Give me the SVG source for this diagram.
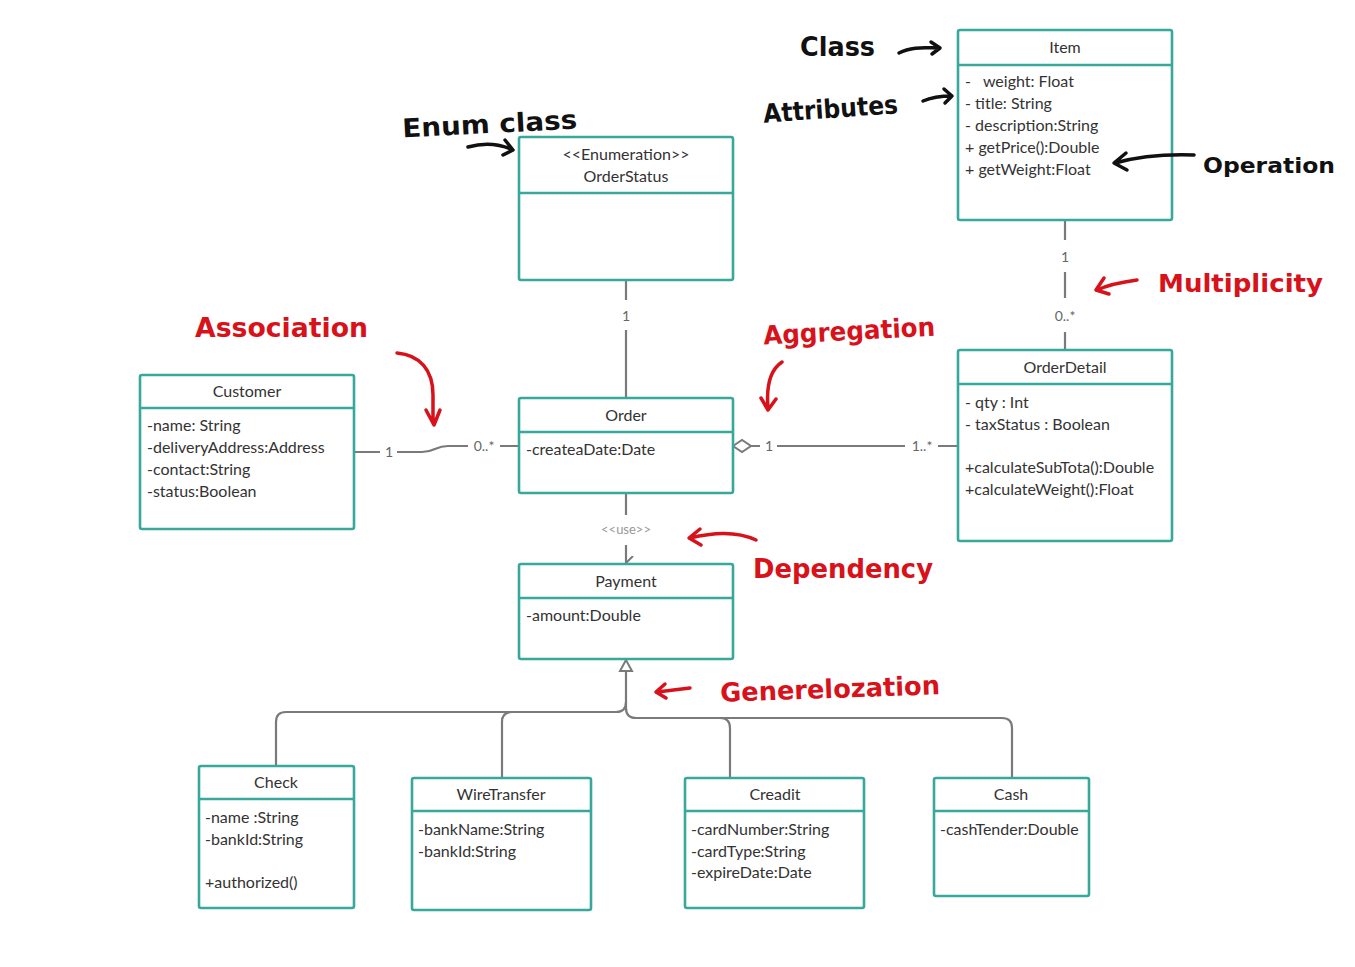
<svg xmlns="http://www.w3.org/2000/svg" width="1355" height="967" viewBox="0 0 1355 967">
<defs>
<style>
.box{fill:#fff;stroke:#38a89d;stroke-width:2.6}
.sep{stroke:#38a89d;stroke-width:2.6}
.t{font-family:Lato,"Open Sans","Liberation Sans",sans-serif;font-size:16px;fill:#333}
.c{text-anchor:middle}
.ln{fill:none;stroke:#7a7a7a;stroke-width:2.2}
.lbl{font-family:Lato,"Liberation Sans",sans-serif;font-size:14px;fill:#666;text-anchor:middle}
.use{font-family:Lato,"Liberation Sans",sans-serif;font-size:13px;fill:#999;text-anchor:middle}
.hb{font-family:"DejaVu Sans","Liberation Sans",sans-serif;font-weight:bold;font-size:26px;fill:#111}
.hr{font-family:"DejaVu Sans","Liberation Sans",sans-serif;font-weight:bold;font-size:26px;fill:#d8121b}
.ab{fill:none;stroke:#111;stroke-width:3.5;stroke-linecap:round;stroke-linejoin:round}
.ar{fill:none;stroke:#d8121b;stroke-width:3.5;stroke-linecap:round;stroke-linejoin:round}
</style>
<marker id="open" viewBox="0 0 14 14" refX="7" refY="13" markerWidth="14" markerHeight="14" markerUnits="userSpaceOnUse" orient="auto-start-reverse">
<path d="M0,6 L7,13 L14,6" fill="none" stroke="#7a7a7a" stroke-width="2"/>
</marker>
</defs>

<g id="connectors">
<!-- OrderStatus - Order -->
<path class="ln" d="M626,280 V300 M626,330 V398"/>
<text class="lbl" x="626" y="321">1</text>
<!-- Item - OrderDetail -->
<path class="ln" d="M1065,220 V240 M1065,272 V298 M1065,332 V350"/>
<text class="lbl" x="1065" y="262">1</text>
<text class="lbl" x="1065" y="321">0..*</text>
<!-- Customer - Order association -->
<path class="ln" d="M354,452 H380 M397,452 H422 C435,452 435,446 448,446 H468 M500,446 H519"/>
<text class="lbl" x="389" y="457">1</text>
<text class="lbl" x="484" y="451">0..*</text>
<!-- Order - OrderDetail aggregation -->
<path d="M733,446 L742,440 L751,446 L742,452 Z" fill="#fff" stroke="#7a7a7a" stroke-width="2"/>
<path class="ln" d="M751,446 H760 M777,446 H905 M938,446 H958"/>
<text class="lbl" x="769" y="451">1</text>
<text class="lbl" x="922" y="451">1..*</text>
<!-- Order - Payment dependency -->
<path class="ln" d="M626,493 V515"/>
<text class="use" x="626" y="534">&lt;&lt;use&gt;&gt;</text>
<path class="ln" d="M626,545 V563" marker-end="url(#open)"/>
<!-- Generalization -->
<path d="M626,660 L620,671 L632,671 Z" fill="#fff" stroke="#7a7a7a" stroke-width="2"/>
<path class="ln" d="M626,671 V708 Q626,718 636,718 H1002 Q1012,718 1012,728 V778"/>
<path class="ln" d="M626,702 Q626,712 616,712 H286 Q276,712 276,722 V766"/>
<path class="ln" d="M512,712 Q502,712 502,722 V778"/>
<path class="ln" d="M720,718 Q730,718 730,728 V778"/>
</g>

<g id="Item">
<rect class="box" x="958" y="30" width="214" height="190" rx="2"/>
<line class="sep" x1="958" y1="65" x2="1172" y2="65"/>
<text class="t c" x="1065" y="53">Item</text>
<text class="t" x="965" y="87">-&#160;&#160; weight: Float</text>
<text class="t" x="965" y="109">- title: String</text>
<text class="t" x="965" y="131">- description:String</text>
<text class="t" x="965" y="153">+ getPrice():Double</text>
<text class="t" x="965" y="175">+ getWeight:Float</text>
</g>

<g id="OrderStatus">
<rect class="box" x="519" y="137" width="214" height="143" rx="2"/>
<line class="sep" x1="519" y1="193" x2="733" y2="193"/>
<text class="t c" x="626" y="160">&lt;&lt;Enumeration&gt;&gt;</text>
<text class="t c" x="626" y="182">OrderStatus</text>
</g>

<g id="Customer">
<rect class="box" x="140" y="375" width="214" height="154" rx="2"/>
<line class="sep" x1="140" y1="408" x2="354" y2="408"/>
<text class="t c" x="247" y="397">Customer</text>
<text class="t" x="147" y="431">-name: String</text>
<text class="t" x="147" y="453">-deliveryAddress:Address</text>
<text class="t" x="147" y="475">-contact:String</text>
<text class="t" x="147" y="497">-status:Boolean</text>
</g>

<g id="Order">
<rect class="box" x="519" y="398" width="214" height="95" rx="2"/>
<line class="sep" x1="519" y1="432" x2="733" y2="432"/>
<text class="t c" x="626" y="421">Order</text>
<text class="t" x="526" y="455">-createaDate:Date</text>
</g>

<g id="OrderDetail">
<rect class="box" x="958" y="350" width="214" height="191" rx="2"/>
<line class="sep" x1="958" y1="384" x2="1172" y2="384"/>
<text class="t c" x="1065" y="373">OrderDetail</text>
<text class="t" x="965" y="408">- qty : Int</text>
<text class="t" x="965" y="430">- taxStatus : Boolean</text>
<text class="t" x="965" y="473">+calculateSubTota():Double</text>
<text class="t" x="965" y="495">+calculateWeight():Float</text>
</g>

<g id="Payment">
<rect class="box" x="519" y="564" width="214" height="95" rx="2"/>
<line class="sep" x1="519" y1="598" x2="733" y2="598"/>
<text class="t c" x="626" y="587">Payment</text>
<text class="t" x="526" y="621">-amount:Double</text>
</g>

<g id="Check">
<rect class="box" x="199" y="766" width="155" height="142" rx="2"/>
<line class="sep" x1="199" y1="799" x2="354" y2="799"/>
<text class="t c" x="276" y="788">Check</text>
<text class="t" x="205" y="823">-name :String</text>
<text class="t" x="205" y="845">-bankId:String</text>
<text class="t" x="205" y="888">+authorized()</text>
</g>

<g id="WireTransfer">
<rect class="box" x="412" y="778" width="179" height="132" rx="2"/>
<line class="sep" x1="412" y1="811" x2="591" y2="811"/>
<text class="t c" x="501" y="800">WireTransfer</text>
<text class="t" x="418" y="835">-bankName:String</text>
<text class="t" x="418" y="857">-bankId:String</text>
</g>

<g id="Creadit">
<rect class="box" x="685" y="778" width="179" height="130" rx="2"/>
<line class="sep" x1="685" y1="811" x2="864" y2="811"/>
<text class="t c" x="775" y="800">Creadit</text>
<text class="t" x="691" y="835">-cardNumber:String</text>
<text class="t" x="691" y="857">-cardType:String</text>
<text class="t" x="691" y="878">-expireDate:Date</text>
</g>

<g id="Cash">
<rect class="box" x="934" y="778" width="155" height="118" rx="2"/>
<line class="sep" x1="934" y1="811" x2="1089" y2="811"/>
<text class="t c" x="1011" y="800">Cash</text>
<text class="t" x="940" y="835">-cashTender:Double</text>
</g>

<g id="annotations">
<text class="hb" x="800" y="56" textLength="75" lengthAdjust="spacingAndGlyphs">Class</text>
<path class="ab" d="M899,53 C912,46 926,48 939,48 M931,42 L940,48 L932,54"/>
<text class="hb" x="763" y="118" textLength="135" lengthAdjust="spacingAndGlyphs" transform="rotate(-4 830 108)">Attributes</text>
<path class="ab" d="M923,101 C932,97 942,96 952,96 M944,89 L952,96 L945,103"/>
<text class="hb" x="402" y="133" textLength="175" lengthAdjust="spacingAndGlyphs" transform="rotate(-3 490 120)">Enum class</text>
<path class="ab" d="M468,147 C482,143 498,143 513,150 M505,140 L513,150 L503,155"/>
<text class="hb" x="1203" y="173" style="font-size:22px" textLength="132" lengthAdjust="spacingAndGlyphs">Operation</text>
<path class="ab" d="M1194,155 C1165,154 1140,156 1115,163 M1126,153 L1114,163 L1127,170"/>

<text class="hr" x="1158" y="292" style="font-size:24px" textLength="165" lengthAdjust="spacingAndGlyphs">Multiplicity</text>
<path class="ar" d="M1137,280 C1122,282 1108,285 1097,290 M1104,278 L1096,290 L1109,294"/>
<text class="hr" x="195" y="337" textLength="173" lengthAdjust="spacingAndGlyphs">Association</text>
<path class="ar" d="M397,353 C420,355 433,370 433,395 V422 M426,410 L434,425 L440,410"/>
<text class="hr" x="763" y="340" textLength="172" lengthAdjust="spacingAndGlyphs" transform="rotate(-3 850 328)">Aggregation</text>
<path class="ar" d="M782,362 C770,370 766,385 768,408 M761,398 L768,410 L776,399"/>
<text class="hr" x="753" y="578" textLength="180" lengthAdjust="spacingAndGlyphs">Dependency</text>
<path class="ar" d="M756,540 C735,530 710,533 690,538 M700,529 L689,538 L701,545"/>
<text class="hr" x="720" y="698" textLength="220" lengthAdjust="spacingAndGlyphs" transform="rotate(-2 830 688)">Generelozation</text>
<path class="ar" d="M690,688 L657,692 M665,684 L656,692 L666,698"/>
</g>
</svg>
